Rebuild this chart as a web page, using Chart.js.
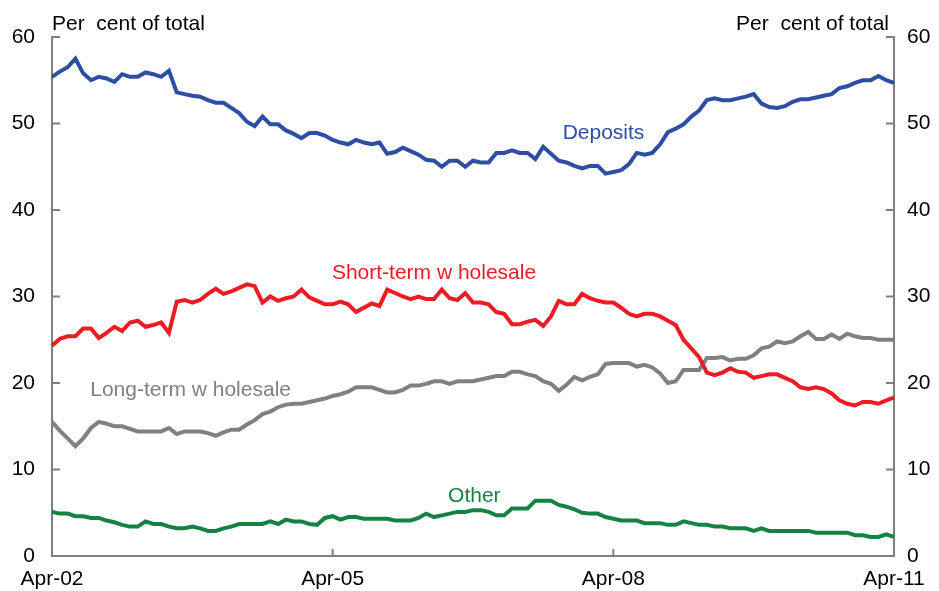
<!DOCTYPE html>
<html>
<head>
<meta charset="utf-8">
<script src="https://cdn.jsdelivr.net/npm/chart.js@4.4.0/dist/chart.umd.min.js"></script>
<style>
  body { margin: 0; background: #fff; }
  #wrap { width: 939px; height: 591px; }
</style>
</head>
<body>
<div id="wrap"><canvas id="fundingChart" width="939" height="591"></canvas></div>
<script>
// Monthly, Apr-02 to Apr-11, per cent of total
const startYear = 2002;
const months = [];
for (let i = 0; i <= 108; i++) {
    const yr = startYear + Math.floor((i + 3) / 12);
    const mo = (i + 3) % 12;
    const names = ['Jan','Feb','Mar','Apr','May','Jun','Jul','Aug','Sep','Oct','Nov','Dec'];
    months.push(names[mo] + '-' + String(yr % 100).padStart(2, '0'));
}

const deposits = [
    55.4, 56.0, 56.5, 57.5, 55.8, 55.0, 55.4, 55.2, 54.8, 55.7,
    55.4, 55.4, 55.9, 55.7, 55.4, 56.1, 53.6, 53.4, 53.2, 53.1,
    52.7, 52.4, 52.4, 51.8, 51.2, 50.2, 49.7, 50.8, 49.9, 49.9,
    49.2, 48.8, 48.3, 48.9, 48.9, 48.6, 48.1, 47.8, 47.6, 48.1,
    47.8, 47.6, 47.8, 46.5, 46.7, 47.2, 46.8, 46.4, 45.8, 45.7,
    45.0, 45.7, 45.7, 45.0, 45.7, 45.5, 45.5, 46.6, 46.6, 46.9,
    46.6, 46.6, 45.9, 47.3, 46.5, 45.7, 45.5, 45.1, 44.8, 45.1,
    45.1, 44.2, 44.4, 44.6, 45.3, 46.6, 46.4, 46.6, 47.6, 49.0,
    49.4, 49.9, 50.8, 51.5, 52.7, 52.9, 52.7, 52.7, 52.9, 53.1,
    53.4, 52.3, 51.9, 51.8, 52.0, 52.5, 52.8, 52.8, 53.0, 53.2,
    53.4, 54.1, 54.3, 54.7, 55.0, 55.0, 55.5, 55.0, 54.7
];

const shortTerm = [
    24.3, 25.1, 25.4, 25.4, 26.3, 26.3, 25.2, 25.8, 26.5, 26.0,
    27.0, 27.2, 26.5, 26.7, 27.0, 25.8, 29.4, 29.6, 29.3, 29.6,
    30.3, 30.9, 30.3, 30.6, 31.0, 31.4, 31.2, 29.3, 30.0, 29.5,
    29.8, 30.0, 30.8, 29.9, 29.5, 29.1, 29.1, 29.4, 29.1, 28.2,
    28.7, 29.2, 28.9, 30.8, 30.4, 30.0, 29.7, 30.0, 29.7, 29.7,
    30.8, 29.8, 29.6, 30.4, 29.3, 29.3, 29.1, 28.2, 28.0, 26.8,
    26.8, 27.1, 27.3, 26.6, 27.7, 29.5, 29.1, 29.1, 30.3, 29.8,
    29.5, 29.3, 29.3, 28.7, 28.0, 27.7, 28.0, 28.0, 27.7, 27.2,
    26.7, 25.0, 24.0, 23.0, 21.2, 20.9, 21.2, 21.7, 21.3, 21.2,
    20.6, 20.8, 21.0, 21.0, 20.6, 20.2, 19.5, 19.3, 19.5, 19.3,
    18.8, 18.0, 17.6, 17.4, 17.8, 17.8, 17.6, 18.0, 18.3
];

const longTerm = [
    15.5, 14.5, 13.6, 12.7, 13.6, 14.8, 15.5, 15.3, 15.0, 15.0,
    14.7, 14.4, 14.4, 14.4, 14.4, 14.8, 14.1, 14.4, 14.4, 14.4,
    14.2, 13.9, 14.3, 14.6, 14.6, 15.2, 15.7, 16.4, 16.7, 17.2,
    17.5, 17.6, 17.6, 17.8, 18.0, 18.2, 18.5, 18.7, 19.0, 19.5,
    19.5, 19.5, 19.2, 18.9, 18.9, 19.2, 19.7, 19.7, 19.9, 20.2,
    20.2, 19.9, 20.2, 20.2, 20.2, 20.4, 20.6, 20.8, 20.8, 21.3,
    21.3, 21.0, 20.8, 20.2, 19.9, 19.1, 19.8, 20.7, 20.3, 20.7,
    21.0, 22.2, 22.3, 22.3, 22.3, 21.9, 22.1, 21.8, 21.1, 20.0,
    20.2, 21.5, 21.5, 21.5, 22.9, 22.9, 23.0, 22.6, 22.8, 22.8,
    23.2, 24.0, 24.2, 24.8, 24.6, 24.8, 25.4, 25.9, 25.1, 25.1,
    25.6, 25.1, 25.7, 25.4, 25.2, 25.2, 25.0, 25.0, 25.0
];

const other = [
    5.1, 4.9, 4.9, 4.6, 4.6, 4.4, 4.4, 4.1, 3.9, 3.6,
    3.4, 3.4, 4.0, 3.7, 3.7, 3.4, 3.2, 3.2, 3.4, 3.2,
    2.9, 2.9, 3.2, 3.4, 3.7, 3.7, 3.7, 3.7, 4.0, 3.7,
    4.2, 4.0, 4.0, 3.7, 3.6, 4.4, 4.6, 4.2, 4.5, 4.5,
    4.3, 4.3, 4.3, 4.3, 4.1, 4.1, 4.1, 4.4, 4.9, 4.5,
    4.7, 4.9, 5.1, 5.1, 5.3, 5.3, 5.1, 4.7, 4.7, 5.5,
    5.5, 5.5, 6.4, 6.4, 6.4, 5.9, 5.7, 5.4, 5.0, 4.9,
    4.9, 4.5, 4.3, 4.1, 4.1, 4.1, 3.8, 3.8, 3.8, 3.6,
    3.6, 4.0, 3.8, 3.6, 3.6, 3.4, 3.4, 3.2, 3.2, 3.2,
    2.9, 3.2, 2.9, 2.9, 2.9, 2.9, 2.9, 2.9, 2.7, 2.7,
    2.7, 2.7, 2.7, 2.4, 2.4, 2.2, 2.2, 2.5, 2.2
];

const yTicks = [0, 10, 20, 30, 40, 50, 60];
const xTickEvery = 36;

const BLUE = '#2c4ea3';
const RED = '#ed1c24';
const GREY = '#808080';
const GREEN = '#168241';
const FONT = '"Liberation Sans", Arial, sans-serif';
const FONT_SIZE = 21;

// series labels placed on the chart: [text, colour, month index, value]
const seriesLabels = [
    ['Deposits', BLUE, 65.5, 48.9],
    ['Short-term w holesale', RED, 35.9, 32.7],
    ['Long-term w holesale', GREY, 4.9, 19.2],
    ['Other', GREEN, 50.8, 6.9]
];

const axisDecor = {
    id: 'axisDecor',
    afterDraw(chart) {
        const ctx = chart.ctx;
        const area = chart.chartArea;
        const x = chart.scales.x;
        const y = chart.scales.y;
        ctx.save();
        ctx.strokeStyle = GREY;
        ctx.lineWidth = 2;
        ctx.beginPath();
        // inward ticks on both value axes
        yTicks.forEach(v => {
            const py = y.getPixelForValue(v);
            ctx.moveTo(area.left, py);
            ctx.lineTo(area.left + 8, py);
            ctx.moveTo(area.right, py);
            ctx.lineTo(area.right - 8, py);
        });
        // inward ticks on the date axis
        for (let i = 0; i < months.length; i += xTickEvery) {
            const px = x.getPixelForValue(i);
            ctx.moveTo(px, area.bottom);
            ctx.lineTo(px, area.bottom - 7);
        }
        ctx.stroke();

        ctx.font = FONT_SIZE + 'px ' + FONT;
        ctx.fillStyle = '#000';
        ctx.textBaseline = 'alphabetic';
        ctx.textAlign = 'left';
        ctx.fillText('Per  cent of total', area.left, 30);
        ctx.textAlign = 'right';
        ctx.fillText('Per  cent of total', area.right - 5, 30);

        ctx.textAlign = 'left';
        ctx.textBaseline = 'middle';
        seriesLabels.forEach(([text, colour, idx, val]) => {
            ctx.fillStyle = colour;
            ctx.fillText(text, x.getPixelForValue(idx), y.getPixelForValue(val));
        });
        ctx.restore();
    }
};

function lineSet(label, data, colour) {
    return {
        label: label,
        data: data,
        borderColor: colour,
        backgroundColor: colour,
        borderWidth: 4,
        pointRadius: 0,
        tension: 0,
        fill: false
    };
}

const ctx = document.getElementById('fundingChart').getContext('2d');
new Chart(ctx, {
    type: 'line',
    data: {
        labels: months,
        datasets: [
            lineSet('Deposits', deposits, BLUE),
            lineSet('Short-term wholesale', shortTerm, RED),
            lineSet('Long-term wholesale', longTerm, GREY),
            lineSet('Other', other, GREEN)
        ]
    },
    options: {
        responsive: false,
        animation: false,
        layout: { padding: { top: 37, left: 0, right: 0, bottom: 0 } },
        plugins: {
            legend: { display: false },
            tooltip: { enabled: false }
        },
        scales: {
            x: {
                type: 'category',
                offset: false,
                grid: { display: false, drawTicks: false },
                border: { display: true, color: GREY, width: 2 },
                ticks: {
                    autoSkip: false,
                    maxRotation: 0,
                    padding: 11,
                    color: '#000',
                    font: { family: FONT, size: FONT_SIZE },
                    callback: function (val, idx) {
                        return idx % xTickEvery === 0 ? this.getLabelForValue(val) : null;
                    }
                },
                afterFit(scale) { scale.height = 35; }
            },
            y: {
                position: 'left',
                min: 0,
                max: 60,
                grid: { display: false, drawTicks: false },
                border: { display: true, color: GREY, width: 2 },
                ticks: {
                    stepSize: 10,
                    padding: 17,
                    color: '#000',
                    font: { family: FONT, size: FONT_SIZE }
                },
                afterFit(scale) { scale.width = 52; }
            },
            y2: {
                position: 'right',
                min: 0,
                max: 60,
                grid: { display: false, drawTicks: false },
                border: { display: true, color: GREY, width: 2 },
                ticks: {
                    stepSize: 10,
                    padding: 13,
                    color: '#000',
                    font: { family: FONT, size: FONT_SIZE }
                },
                afterFit(scale) { scale.width = 45; }
            }
        }
    },
    plugins: [axisDecor]
});
</script>
</body>
</html>
